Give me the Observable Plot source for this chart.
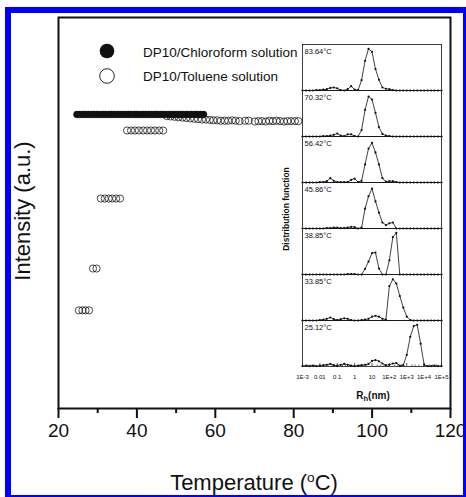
<!DOCTYPE html>
<html><head><meta charset="utf-8">
<script src="https://cdn.jsdelivr.net/npm/d3@7"></script>
<script src="https://cdn.jsdelivr.net/npm/@observablehq/plot@0.6"></script>
<style>
html,body{margin:0;padding:0;background:#fff;overflow:hidden;}
#wrap{position:relative;width:466px;height:497px;overflow:hidden;font-family:"Liberation Sans",Arial,sans-serif;color:#111;}
#wrap svg{position:absolute;overflow:visible;}
.lbl{position:absolute;white-space:nowrap;line-height:1;}
#border{position:absolute;left:5px;top:7px;width:464px;height:494px;box-sizing:border-box;border:6px solid #0000ff;z-index:10;}
</style></head><body><div id="wrap"><div id="border"></div></div>
<script>
// ---- main chart data ----
const chloroT = [24.7,25.4,26.2,26.9,27.6,28.4,29.1,29.8,30.6,31.3,32.0,32.8,33.5,34.2,35.0,35.7,36.4,37.2,37.9,38.6,39.4,40.1,40.8,41.6,42.3,43.0,43.8,44.5,45.2,46.0,46.7,47.4,48.2,48.9,49.6,50.4,51.1,51.8,52.6,53.3,54.0,54.8,55.5,56.2,57.0];
const chloroI = [75.2,75.2,75.2,75.2,75.2,75.2,75.2,75.2,75.2,75.2,75.2,75.2,75.2,75.2,75.2,75.2,75.2,75.2,75.2,75.2,75.2,75.2,75.2,75.2,75.2,75.2,75.2,75.2,75.2,75.2,75.2,75.2,75.2,75.2,75.2,75.2,75.2,75.2,75.2,75.2,75.2,75.2,75.2,75.2,75.2];
const tolueneT = [25.2,26.1,26.9,27.8, 28.8,29.7, 30.8,31.8,32.8,33.7,34.7,35.7, 37.5,38.5,39.5,40.5,41.6,42.6,43.6,44.6,45.7,46.7,
  47.6,48.6,49.6,50.6,51.6,52.6,53.6,54.6,55.6,56.6,57.6, 58.6,59.5,60.5,61.4,62.4,63.3,64.3,65.2,66.2,67.6,68.5,
  70.1,71.0,71.9,72.9,73.8,74.7,75.6,76.5,77.5,78.4,79.3,80.3,81.2];
const tolueneI = [25.1,25.1,25.1,25.1, 35.8,35.8, 53.7,53.7,53.7,53.7,53.7,53.7, 71.1,71.1,71.1,71.1,71.1,71.1,71.1,71.1,71.1,71.1,
  74.8,74.7,74.6,74.5,74.4,74.3,74.2,74.1,74.0,73.9,73.9, 73.8,73.7,73.7,73.6,73.6,73.6,73.7,73.6,73.5,73.6,73.6,
  73.4,73.5,73.5,73.4,73.6,73.5,73.6,73.5,73.4,73.5,73.5,73.5,73.5];
const xTicks = [20,40,60,80,100,120];
const xMinorTicks = [30,50,70,90,110];
const legendLabels = ["DP10/Chloroform solution","DP10/Toluene solution"];

// ---- inset data ----
const panelTemps = ["83.64°C","70.32°C","56.42°C","45.86°C","38.85°C","33.85°C","25.12°C"];
const logRh = [-3,-2.8,-2.6,-2.4,-2.2,-2,-1.8,-1.6,-1.4,-1.2,-1,-0.8,-0.6,-0.4,-0.2,0,0.2,0.4,0.6,0.8,1,1.2,1.4,1.6,1.8,2,2.2,2.4,2.6,2.8,3,3.2,3.4,3.6,3.8,4,4.2,4.4,4.6,4.8,5];
const dist8364 = [0,0,0,0,0.01,0.01,0.02, 0.03,0.06,0.07,0.05,0.01,0,0.03,0.1,0.02,0.01,0.24,0.69,0.97,0.9,0.5,0.25,0.07,0.04,0.03,0.01, 0,0,0,0,0,0,0,0,0,0,0,0,0,0];
const dist7032 = [0,0,0,0,0,0,0.01, 0.01,0.02,0.04,0.07,0.02,0.01,0.05,0.05,0.01,0,0.15,0.62,0.93,0.86,0.55,0.22,0.06,0.02,0.01,0, 0,0,0,0,0,0,0,0,0,0,0,0,0,0];
const dist5642 = [0,0,0,0,0,0.01,0.01, 0.03,0.1,0.04,0.01,0.01,0.01,0.01,0.06,0.09,0.01,0.04,0.42,0.79,0.92,0.7,0.42,0.1,0.02,0.03,0.03, 0.01,0,0,0,0,0,0,0,0,0,0,0,0,0];
const dist4586 = [0,0,0,0,0,0,0, 0.01,0.01,0.02,0.02,0.01,0.01,0.02,0.04,0.03,0,0.02,0.46,0.75,0.93,0.63,0.37,0.14,0.08,0.12,0.14, 0,0,0,0,0,0,0,0,0,0,0,0,0,0];
const dist3885 = [0,0,0,0,0,0,0, 0,0,0,0,0,0,0.01,0.01,0.01,0,0,0.13,0.3,0.5,0.51,0.14,0,0,0.33,0.87, 0.97,0,0,0,0,0,0,0,0,0,0,0,0,0];
const dist3385 = [0,0,0,0,0,0.01,0.02, 0.04,0.07,0.03,0.01,0.03,0.05,0.04,0.01,0,0,0.01,0.02,0.04,0.09,0.11,0.09,0.04,0.02,0.8,0.96, 0.86,0.57,0.3,0.09,0.01,0,0,0,0,0,0,0,0,0];
const dist2512 = [0.01,0.02,0.01,0.02,0.01,0.02,0.03, 0.04,0.06,0.03,0.02,0.04,0.06,0.04,0.02,0.01,0.02,0.03,0.04,0.06,0.13,0.15,0.12,0.07,0.03,0.04,0.07, 0.08,0.02,0.03,0.27,0.69,0.94,0.97,0.53,0.04,0.01,0.01,0.02,0.01,0.01];
const rhTickValues = [1e-3,1e-2,1e-1,1,10,1e2,1e3,1e4,1e5];
const rhTickLabels = ["1E-3","0.01","0.1","1","10","1E+2","1E+3","1E+4","1E+5"];
const rhMinorTicks = [2e-3,3e-3,5e-3,2e-2,3e-2,5e-2,0.2,0.3,0.5,2,3,5,20,30,50,200,300,500,2e3,3e3,5e3,2e4,3e4,5e4];

const FONT = "Liberation Sans, Arial, sans-serif";
const wrap = document.getElementById("wrap");

// ---- main plot ----
const chloro = chloroT.map((t, i) => ({t, v: chloroI[i]}));
const toluene = tolueneT.map((t, i) => ({t, v: tolueneI[i]}));
const main = Plot.plot({
  width: 466, height: 497,
  marginLeft: 58, marginRight: 16, marginTop: 17, marginBottom: 89,
  x: {domain: [20, 120]},
  y: {domain: [0, 100], axis: null},
  style: {fontFamily: FONT, background: "transparent", color: "#111"},
  marks: [
    Plot.dot(toluene, {x: "t", y: "v", r: 3.6, stroke: "#111", strokeWidth: 0.75, fill: "none"}),
    Plot.dot(chloro, {x: "t", y: "v", r: 3.4, fill: "#111", stroke: "#111", strokeWidth: 0.5}),
    Plot.frame({stroke: "#111", strokeWidth: 2}),
    Plot.axisX({ticks: xMinorTicks, tickSize: 5, tickFormat: () => "", strokeWidth: 2, label: null}),
    Plot.axisX({ticks: xTicks, tickSize: 10, tickPadding: 5, fontSize: 19, strokeWidth: 2, label: null})
  ]
});
main.style.left = "0px"; main.style.top = "0px";
wrap.appendChild(main);

// ---- inset plot ----
const series = [dist8364, dist7032, dist5642, dist4586, dist3885, dist3385, dist2512];
const distData = series.flatMap((s, p) => s.map((v, j) => ({panel: p, rh: Math.pow(10, logRh[j]), v})));
const panelLabels = panelTemps.map((label, p) => ({panel: p, label}));
const lastPanel = panelTemps.length - 1;
const majorTickData = rhTickValues.map(x => ({x, panel: lastPanel}));
const minorTickData = rhMinorTicks.map(x => ({x, panel: lastPanel}));
const iL = 12, iT = 2;
const inset = Plot.plot({
  width: 139 + iL + 12, height: 323 + iT + 20,
  marginLeft: iL, marginRight: 12, marginTop: iT, marginBottom: 20,
  x: {type: "log", domain: [1e-3, 1e5]},
  y: {domain: [0, 1.07], axis: null},
  fy: {domain: d3.range(panelTemps.length), padding: 0, axis: null},
  style: {fontFamily: FONT, background: "transparent", color: "#111"},
  marks: [
    Plot.ruleX(majorTickData, {x: "x", fy: "panel", y1: 0, y2: 0.07, stroke: "#111", strokeWidth: 0.7}),
    Plot.ruleX(minorTickData, {x: "x", fy: "panel", y1: 0, y2: 0.035, stroke: "#111", strokeWidth: 0.6}),
    Plot.line(distData, {x: "rh", y: "v", fy: "panel", stroke: "#111", strokeWidth: 0.8}),
    Plot.dot(distData, {x: "rh", y: "v", fy: "panel", r: 1.1, fill: "#111"}),
    Plot.text(panelLabels, {fy: "panel", text: "label", frameAnchor: "top-left", dx: 2, dy: 4, fontSize: 7.5, fill: "#111"}),
    Plot.frame({stroke: "#111", strokeWidth: 0.8}),
    Plot.axisX({ticks: rhTickValues, tickFormat: d => rhTickLabels[rhTickValues.indexOf(d)], tickSize: 0, tickPadding: 8, fontSize: 6, label: null})
  ]
});
inset.style.left = (302 - iL) + "px"; inset.style.top = (43 - iT) + "px";
wrap.appendChild(inset);

// ---- legend (overlay) ----
const leg = d3.select(wrap).append("svg").attr("width", 466).attr("height", 497).style("left", "0px").style("top", "0px");
leg.append("circle").attr("cx", 107).attr("cy", 51).attr("r", 7.3).attr("fill", "#111");
leg.append("circle").attr("cx", 107).attr("cy", 76).attr("r", 7.3).attr("fill", "none").attr("stroke", "#111").attr("stroke-width", 0.9);
leg.append("text").attr("x", 143).attr("y", 56.5).attr("font-size", 13.5).attr("font-family", FONT).attr("fill", "#111").text(legendLabels[0]);
leg.append("text").attr("x", 143).attr("y", 80.7).attr("font-size", 13.5).attr("font-family", FONT).attr("fill", "#111").text(legendLabels[1]);

// ---- text labels ----
function addLabel(html, css) {
  const d = document.createElement("div");
  d.className = "lbl"; d.innerHTML = html;
  Object.assign(d.style, css);
  wrap.appendChild(d);
}
addLabel("Temperature (<sup style='font-size:0.62em;vertical-align:0.62em'>o</sup>C)", {left: "254px", top: "471px", fontSize: "22px", transform: "translateX(-50%)"});
addLabel("Intensity (a.u.)", {left: "23px", top: "211px", fontSize: "22px", transform: "translate(-50%,-50%) rotate(-90deg)"});
addLabel("Distribution function", {left: "286px", top: "209px", fontSize: "8.5px", fontWeight: "bold", transform: "translate(-50%,-50%) rotate(-90deg)"});
addLabel("R<sub style='font-size:0.75em;vertical-align:-0.3em'>h</sub>(nm)", {left: "373px", top: "391px", fontSize: "10px", fontWeight: "bold", transform: "translateX(-50%)"});
</script></body></html>
